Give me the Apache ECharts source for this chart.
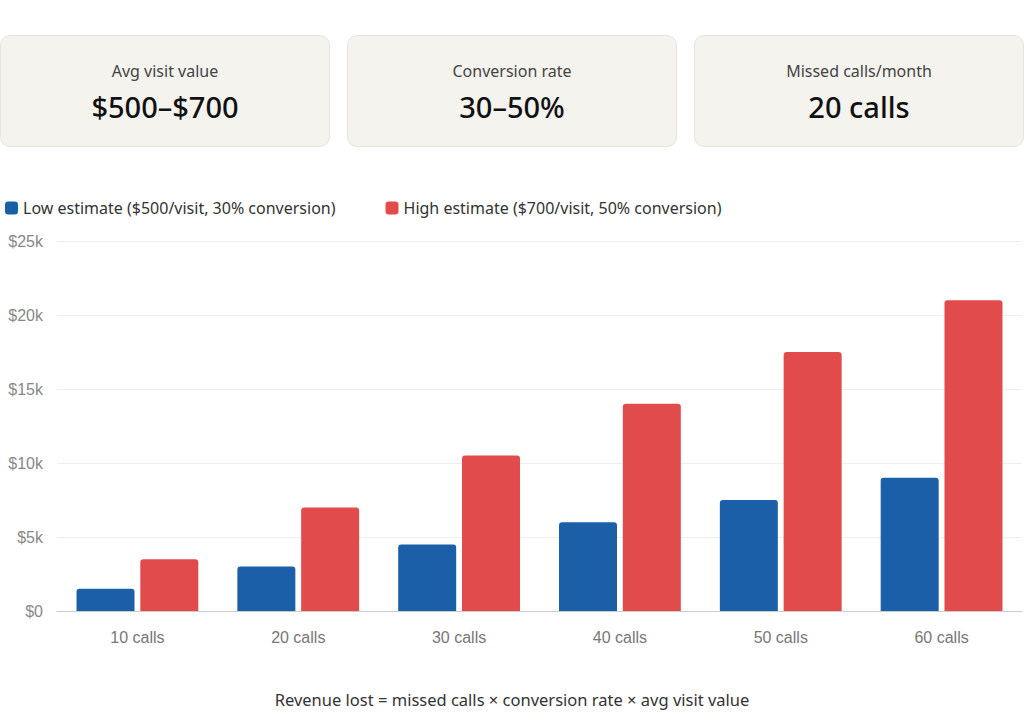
<!DOCTYPE html>
<html>
<head>
<meta charset="utf-8">
<script src="https://cdn.jsdelivr.net/npm/echarts@6.0.0/dist/echarts.min.js"></script>
<style>
  body { margin: 0; background: #fff; font-family: "Noto Sans", "Open Sans", sans-serif; }
  .cards { position: absolute; top: 35px; left: 0; width: 1024px; height: 112px; }
  .card { position: absolute; top: 0; width: 330px; height: 112px; background: #f4f3ee; border: 1px solid #e6e4dc; border-radius: 10px; box-sizing: border-box; text-align: center; }
  .card .lbl { margin-top: 24px; font-size: 16px; color: #444; }
  .card .val { margin-top: 5px; font-size: 29px; font-weight: 500; color: #111; }
  #chart { position: absolute; top: 180px; left: 0; width: 1024px; height: 490px; }
  .foot { position: absolute; top: 688px; left: 0; width: 1024px; text-align: center; font-size: 16.5px; color: #333; }
</style>
</head>
<body>
<div class="cards">
  <div class="card" style="left:0"><div class="lbl">Avg visit value</div><div class="val">$500–$700</div></div>
  <div class="card" style="left:347px"><div class="lbl">Conversion rate</div><div class="val">30–50%</div></div>
  <div class="card" style="left:694px"><div class="lbl">Missed calls/month</div><div class="val">20 calls</div></div>
</div>
<div id="chart"></div>
<div class="foot">Revenue lost = missed calls × conversion rate × avg visit value</div>
<script>
  const calls = ['10 calls', '20 calls', '30 calls', '40 calls', '50 calls', '60 calls'];
  const lowData = [1500, 3000, 4500, 6000, 7500, 9000];
  const highData = [3500, 7000, 10500, 14000, 17500, 21000];

  const myChart = echarts.init(document.getElementById('chart'), null, { renderer: 'svg' });
  const option = {
    animation: false,
    legend: {
      left: 0,
      top: 15,
      itemWidth: 13,
      itemHeight: 13,
      itemGap: 50,
      textStyle: { color: '#333', fontSize: 16, fontFamily: 'Noto Sans' },
      data: [
        { name: 'Low estimate ($500/visit, 30% conversion)', icon: 'roundRect' },
        { name: 'High estimate ($700/visit, 50% conversion)', icon: 'roundRect' }
      ]
    },
    grid: { left: 57, right: 2, top: 61, bottom: 59 },
    xAxis: {
      type: 'category',
      data: calls,
      axisLine: { lineStyle: { color: '#ccc' } },
      axisTick: { show: false },
      axisLabel: { color: '#777', fontSize: 16, margin: 18, fontFamily: 'Liberation Sans' }
    },
    yAxis: {
      type: 'value',
      min: 0,
      max: 25000,
      interval: 5000,
      axisLabel: {
        color: '#888',
        fontSize: 16,
        margin: 14,
        fontFamily: 'Liberation Sans',
        formatter: v => v === 0 ? '$0' : '$' + v / 1000 + 'k'
      },
      splitLine: { lineStyle: { color: '#eee' } }
    },
    series: [
      {
        name: 'Low estimate ($500/visit, 30% conversion)',
        type: 'bar',
        data: lowData,
        barWidth: 58,
        barGap: '10%',
        itemStyle: { color: '#1a5fa8', borderRadius: [3, 3, 0, 0] }
      },
      {
        name: 'High estimate ($700/visit, 50% conversion)',
        type: 'bar',
        data: highData,
        barWidth: 58,
        itemStyle: { color: '#e24b4b', borderRadius: [3, 3, 0, 0] }
      }
    ]
  };
  myChart.setOption(option);
  window.addEventListener('resize', () => myChart.resize());
</script>
</body>
</html>
